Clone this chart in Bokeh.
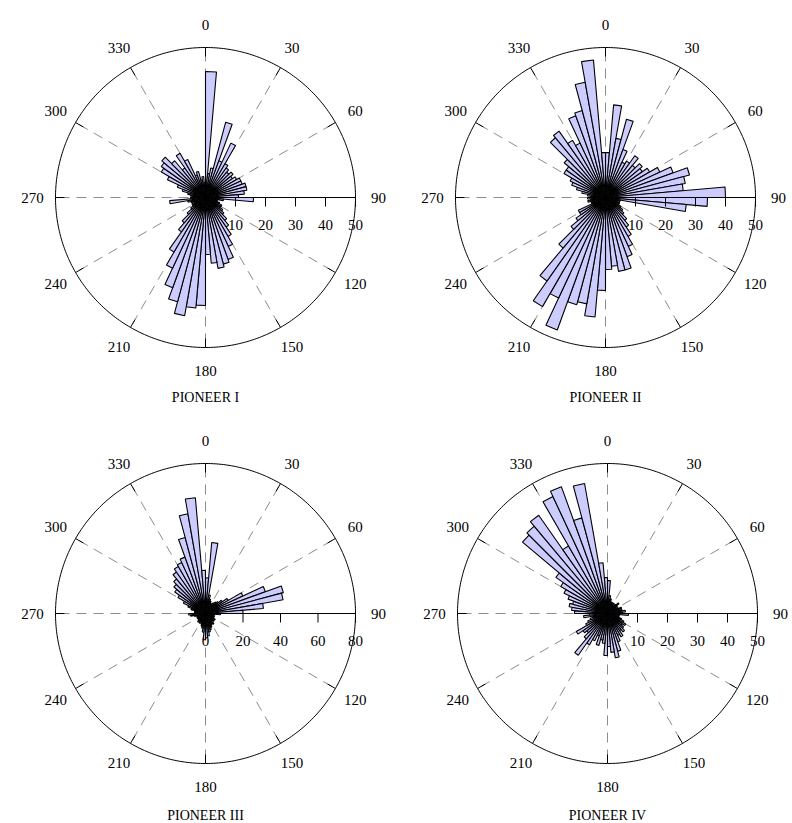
import math
from bokeh.plotting import figure
from bokeh.layouts import gridplot
from bokeh.models import Range1d
from bokeh.core.properties import value
from bokeh.embed import file_html
from bokeh.resources import INLINE

# ---- data: counts per 5-degree bin, compass angle from 0 (north) clockwise ----
bin_width = 5
titles = ["PIONEER I", "PIONEER II", "PIONEER III", "PIONEER IV"]
angle_labels = [0, 30, 60, 90, 120, 150, 180, 210, 240, 270, 300, 330]

pioneer1 = [42, 8, 10, 26, 13, 20, 13, 12, 11, 12, 11, 12, 13, 13, 14, 14, 13, 11,
            16, 6, 4, 4, 5, 6, 6, 7, 8, 10, 12, 15, 18, 22, 23, 24, 22, 19,
            36, 37, 40, 36, 32, 26, 21, 14, 11, 8, 6, 5, 5, 4, 5, 6, 12, 5,
            4, 5, 6, 8, 10, 14, 17, 18, 19, 16, 12, 17, 14, 8, 9, 6, 7, 5]
pioneer2 = [15, 31, 20, 27, 17, 13, 14, 17, 14, 16, 15, 17, 20, 24, 29, 27, 26, 40,
            34, 27, 5, 4, 5, 5, 6, 7, 8, 10, 12, 15, 18, 21, 25, 25, 23, 24,
            31, 40, 36, 37, 47, 37, 42, 34, 22, 15, 12, 10, 10, 5, 5, 6, 5, 6,
            5, 6, 8, 10, 12, 13, 16, 16, 18, 26, 27, 22, 20, 29, 30, 39, 46, 15]
pioneer3 = [19, 38, 10, 8, 7, 6, 6, 7, 8, 9, 11, 14, 22, 34, 43, 42, 31, 20,
            8, 5, 4, 5, 4, 5, 6, 5, 6, 5, 7, 6, 7, 8, 9, 10, 12, 13,
            14, 10, 8, 7, 6, 5, 6, 5, 6, 5, 4, 5, 4, 5, 4, 6, 8, 9,
            6, 5, 6, 8, 10, 13, 17, 20, 22, 24, 27, 29, 30, 32, 42, 54, 62, 23]
pioneer4 = [11, 6, 5, 4, 4, 3, 4, 3, 4, 5, 4, 3, 4, 5, 4, 5, 6, 5,
            7, 4, 3, 4, 5, 6, 7, 6, 7, 8, 7, 9, 8, 10, 13, 15, 13, 11,
            14, 10, 9, 11, 8, 10, 12, 17, 11, 9, 10, 12, 8, 7, 6, 5, 8, 6,
            11, 12, 13, 12, 14, 16, 18, 21, 37, 38, 40, 26, 43, 45, 33, 44, 17, 12]

radial_max = [50, 50, 80, 50]
radial_step = [10, 10, 20, 10]

series = [pioneer1, pioneer2, pioneer3, pioneer4]

# ---- layout (pixels) ----
FW = 396
ROW_H = [411, 412]
CENTERS = [(205, 197), (209, 197), (205, 202), (211, 202)]
R_PX = 150
TITLE_OFF = [200, 200, 202, 202]

FONT = value("Liberation Serif")
BAR_FILL = "#ccccff"


def pol(r, deg):
    t = math.radians(deg)
    return r * math.sin(t), r * math.cos(t)


def make_panel(k):
    vals = series[k]
    rmax = radial_max[k]
    step = radial_step[k]
    H = ROW_H[k // 2]
    cx, cy = CENTERS[k]
    s = R_PX / rmax  # px per unit
    p = figure(width=FW, height=H, output_backend="svg", toolbar_location=None,
               x_range=Range1d(-cx / s, (FW - cx) / s),
               y_range=Range1d(-(H - cy) / s, cy / s),
               min_border=0)
    p.axis.visible = False
    p.grid.visible = False
    p.outline_line_color = None
    p.background_fill_color = "white"
    p.border_fill_color = "white"

    # dashed spokes
    sx, sy = [], []
    for a in angle_labels:
        if a == 90:
            continue
        x1, y1 = pol(rmax, a)
        sx.append([0, x1])
        sy.append([0, y1])
    p.multi_line(sx, sy, line_color="#8c8c8c", line_dash="10 7", line_width=1)

    # radial tick labels (drawn beneath bars)
    tv = list(range(0, rmax + 1, step))
    p.text(x=tv, y=[-27 / s] * len(tv), text=[str(v) for v in tv],
           text_font=FONT, text_font_size="15px", text_align="center",
           text_baseline="middle", text_color="black")

    # bars as wedges
    xs, ys = [], []
    for i, v in enumerate(vals):
        if v <= 0:
            continue
        a1 = i * bin_width
        a2 = a1 + bin_width
        x1, y1 = pol(v, a1)
        x2, y2 = pol(v, a2)
        xs.append([0, x1, x2])
        ys.append([0, y1, y2])
    p.patches(xs, ys, fill_color=BAR_FILL, line_color="black", line_width=1.1)

    # outer circle
    cxs, cys = [], []
    for d in range(0, 361):
        x, y = pol(rmax, d)
        cxs.append(x)
        cys.append(y)
    p.line(cxs, cys, line_color="black", line_width=1)

    # short ticks on circle
    tx, ty = [], []
    for a in angle_labels:
        x0, y0 = pol(rmax, a)
        x1, y1 = pol(rmax - 9 / s, a)
        tx.append([x0, x1])
        ty.append([y0, y1])
    p.multi_line(tx, ty, line_color="black", line_width=1)

    # radial axis along 90
    p.line([0, rmax], [0, 0], line_color="black", line_width=1)
    p.multi_line([[v, v] for v in tv[1:]], [[0, -9 / s] for _ in tv[1:]],
                 line_color="black", line_width=1)

    # angle labels
    lx, ly = [], []
    for a in angle_labels:
        x, y = pol((R_PX + 23) / s, a)
        lx.append(x)
        ly.append(y)
    p.text(x=lx, y=ly, text=[str(a) for a in angle_labels], text_font=FONT,
           text_font_size="15px", text_align="center", text_baseline="middle",
           text_color="black")

    # title
    p.text(x=[0], y=[-TITLE_OFF[k] / s], text=[titles[k]], text_font=FONT,
           text_font_size="14px", text_align="center", text_baseline="middle",
           text_color="black")
    return p


panels = [make_panel(k) for k in range(4)]
grid = gridplot([[panels[0], panels[1]], [panels[2], panels[3]]],
                toolbar_location=None)

open("out.html", "w").write(file_html(grid, INLINE))
